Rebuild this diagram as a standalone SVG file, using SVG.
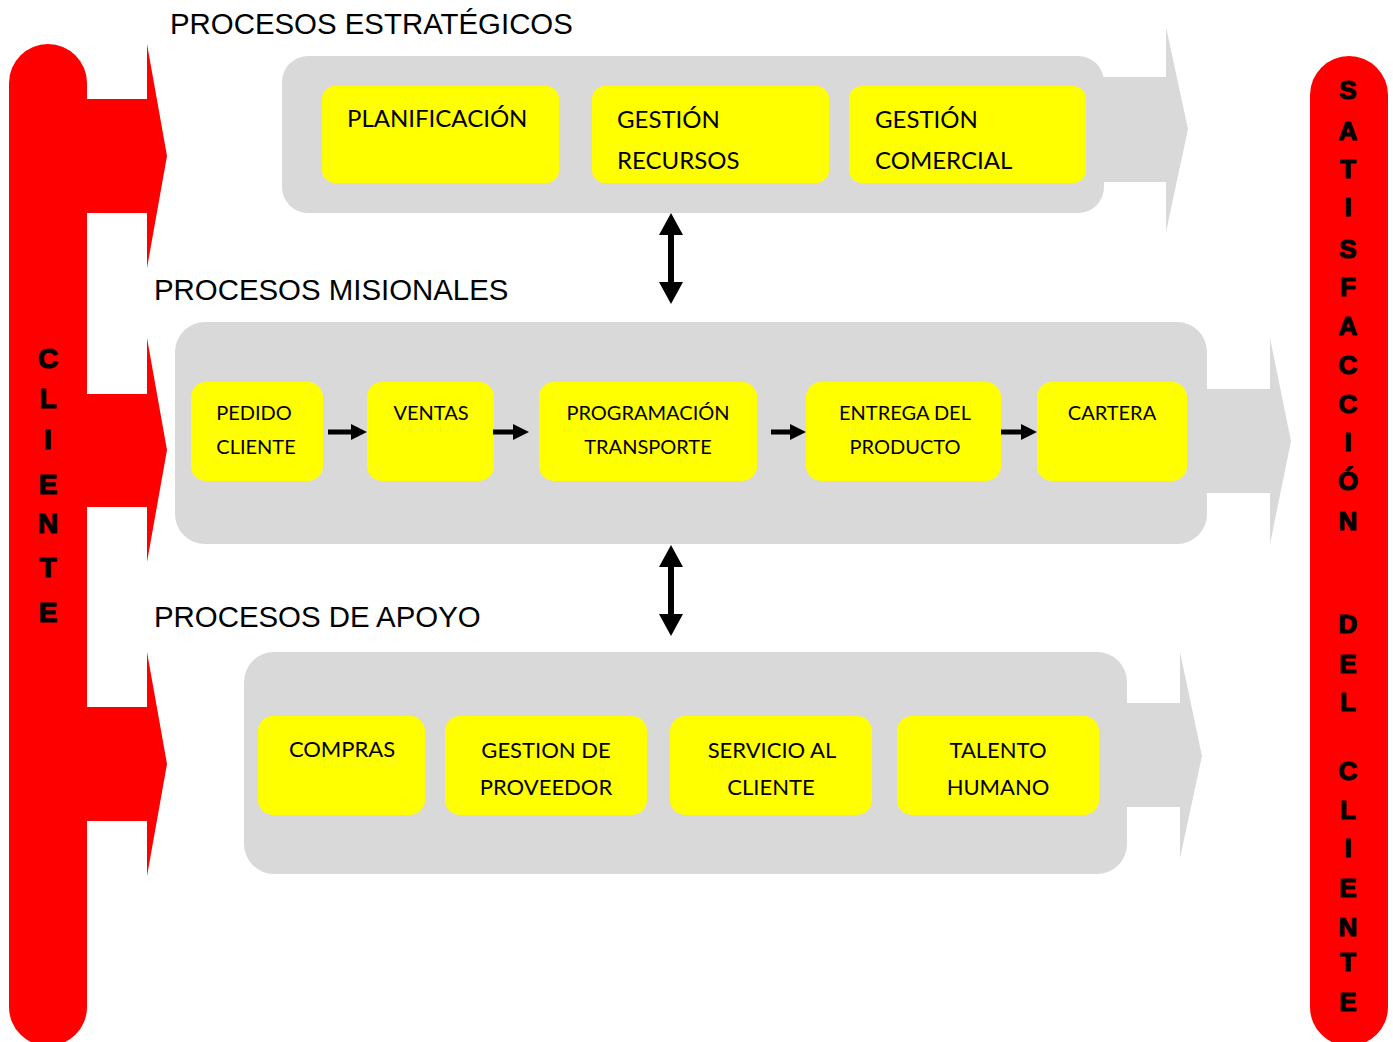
<svg xmlns="http://www.w3.org/2000/svg" width="1393" height="1042" viewBox="0 0 1393 1042">
  <defs>
    <style>
      .red { fill: #FF0000; }
      .panel { fill: #D9D9D9; }
      .box { fill: #FFFF00; }
      .title { font-family: "Liberation Sans", Arial, sans-serif; font-size: 29.4px; fill: #000; }
      .bar { font-family: "Liberation Sans", Arial, sans-serif; font-weight: bold; fill: #000; stroke: #000; stroke-width: 1.2px; stroke-linejoin: round; text-anchor: middle; }
      .bl { font-size: 28px; }
      .br { font-size: 26px; }
      .t1 { font-family: Lato, "Open Sans", sans-serif; font-size: 24px; fill: #000; }
      .t2 { font-family: Lato, "Open Sans", sans-serif; font-size: 20px; fill: #000; text-anchor: middle; }
      .t3 { font-family: Lato, "Open Sans", sans-serif; font-size: 22px; fill: #000; text-anchor: middle; }
      .arrow { fill: #000; }
    </style>
  </defs>

  <!-- Client bar with three arrows pointing into the process panels -->
  <g id="cliente">
    <rect class="red" x="9" y="44" width="78" height="1002" rx="39" ry="39"/>
    <polygon class="red" points="60,99 147,99 147,44 167,156 147,268 147,213 60,213"/>
    <polygon class="red" points="60,394 147,394 147,338 167,450 147,562 147,507 60,507"/>
    <polygon class="red" points="60,707 147,707 147,652 167,764 147,876 147,821 60,821"/>
    <text class="bar bl" x="48" y="368">C</text>
    <text class="bar bl" x="48" y="408">L</text>
    <text class="bar bl" x="48" y="449">I</text>
    <text class="bar bl" x="48" y="494">E</text>
    <text class="bar bl" x="48" y="533">N</text>
    <text class="bar bl" x="48" y="577">T</text>
    <text class="bar bl" x="48" y="622">E</text>
  </g>

  <!-- Customer satisfaction bar -->
  <g id="satisfaccion">
    <rect class="red" x="1310" y="56" width="78" height="990" rx="39" ry="39"/>
    <text class="bar br" x="1348" y="99">S</text>
    <text class="bar br" x="1348" y="140">A</text>
    <text class="bar br" x="1348" y="178">T</text>
    <text class="bar br" x="1348" y="216">I</text>
    <text class="bar br" x="1348" y="258">S</text>
    <text class="bar br" x="1348" y="296">F</text>
    <text class="bar br" x="1348" y="335">A</text>
    <text class="bar br" x="1348" y="374">C</text>
    <text class="bar br" x="1348" y="413">C</text>
    <text class="bar br" x="1348" y="451">I</text>
    <text class="bar br" x="1348" y="490">Ó</text>
    <text class="bar br" x="1348" y="530">N</text>
    <text class="bar br" x="1348" y="633">D</text>
    <text class="bar br" x="1348" y="673">E</text>
    <text class="bar br" x="1348" y="711">L</text>
    <text class="bar br" x="1348" y="780">C</text>
    <text class="bar br" x="1348" y="819">L</text>
    <text class="bar br" x="1348" y="857">I</text>
    <text class="bar br" x="1348" y="897">E</text>
    <text class="bar br" x="1348" y="936">N</text>
    <text class="bar br" x="1348" y="971">T</text>
    <text class="bar br" x="1348" y="1011">E</text>
  </g>

  <!-- Section titles -->
  <text class="title" x="170" y="34">PROCESOS ESTRATÉGICOS</text>
  <text class="title" x="154" y="300">PROCESOS MISIONALES</text>
  <text class="title" x="154" y="627">PROCESOS DE APOYO</text>

  <!-- Strategic processes -->
  <g id="estrategicos">
    <polygon class="panel" points="1080,77 1166,77 1166,27 1188,129 1166,232 1166,182 1080,182"/>
    <rect class="panel" x="282" y="56" width="822" height="157" rx="26" ry="26"/>
  </g>
  <g id="planificacion">
    <rect class="box" x="322" y="86" width="237" height="97" rx="13"/>
    <text class="t1" x="347" y="127">PLANIFICACIÓN</text>
  </g>
  <g id="gestion-recursos">
    <rect class="box" x="592" y="86" width="237" height="97" rx="13"/>
    <text class="t1" x="617" y="128">GESTIÓN</text>
    <text class="t1" x="617" y="169">RECURSOS</text>
  </g>
  <g id="gestion-comercial">
    <rect class="box" x="849" y="86" width="237" height="97" rx="13"/>
    <text class="t1" x="875" y="128">GESTIÓN</text>
    <text class="t1" x="875" y="169">COMERCIAL</text>
  </g>

  <!-- Core processes -->
  <g id="misionales">
    <polygon class="panel" points="1180,389 1270,389 1270,338 1291,441 1270,544 1270,493 1180,493"/>
    <rect class="panel" x="175" y="322" width="1032" height="222" rx="30" ry="30"/>
  </g>
  <g id="pedido-cliente">
    <rect class="box" x="191" y="382" width="132" height="99" rx="15"/>
    <text class="t2" x="254" y="420">PEDIDO</text>
    <text class="t2" x="256" y="454">CLIENTE</text>
  </g>
  <g id="ventas">
    <rect class="box" x="367" y="382" width="127" height="99" rx="15"/>
    <text class="t2" x="431" y="420">VENTAS</text>
  </g>
  <g id="programacion-transporte">
    <rect class="box" x="539" y="382" width="218" height="99" rx="15"/>
    <text class="t2" x="648" y="420">PROGRAMACIÓN</text>
    <text class="t2" x="648" y="454">TRANSPORTE</text>
  </g>
  <g id="entrega-producto">
    <rect class="box" x="806" y="382" width="195" height="99" rx="15"/>
    <text class="t2" x="905" y="420">ENTREGA DEL</text>
    <text class="t2" x="905" y="454">PRODUCTO</text>
  </g>
  <g id="cartera">
    <rect class="box" x="1037" y="382" width="150" height="99" rx="15"/>
    <text class="t2" x="1112" y="420">CARTERA</text>
  </g>

  <!-- Support processes -->
  <g id="apoyo">
    <polygon class="panel" points="1100,703 1180,703 1180,652 1202,756 1180,858 1180,807 1100,807"/>
    <rect class="panel" x="244" y="652" width="883" height="222" rx="30" ry="30"/>
  </g>
  <g id="compras">
    <rect class="box" x="258" y="716" width="167" height="99" rx="15"/>
    <text class="t3" x="342" y="757">COMPRAS</text>
  </g>
  <g id="gestion-proveedor">
    <rect class="box" x="445" y="716" width="202" height="99" rx="15"/>
    <text class="t3" x="546" y="758">GESTION DE</text>
    <text class="t3" x="546" y="795">PROVEEDOR</text>
  </g>
  <g id="servicio-cliente">
    <rect class="box" x="670" y="716" width="202" height="99" rx="15"/>
    <text class="t3" x="772" y="758">SERVICIO AL</text>
    <text class="t3" x="771" y="795">CLIENTE</text>
  </g>
  <g id="talento-humano">
    <rect class="box" x="897" y="716" width="202" height="99" rx="15"/>
    <text class="t3" x="998" y="758">TALENTO</text>
    <text class="t3" x="998" y="795">HUMANO</text>
  </g>

  <!-- Connectors -->
  <g id="connectors">
    <polygon class="arrow" points="671,213 683,235 674,235 674,282 683,282 671,304 659,282 668,282 668,235 659,235"/>
    <polygon class="arrow" points="671,545 683,567 674,567 674,614 683,614 671,636 659,614 668,614 668,567 659,567"/>
    <polygon class="arrow" points="328,429.5 351,429.5 351,424 367,432 351,440 351,434.5 328,434.5"/>
    <polygon class="arrow" points="493,429.5 513,429.5 513,424 529,432 513,440 513,434.5 493,434.5"/>
    <polygon class="arrow" points="771,429.5 790,429.5 790,424 806,432 790,440 790,434.5 771,434.5"/>
    <polygon class="arrow" points="1001,429.5 1021,429.5 1021,424 1037,432 1021,440 1021,434.5 1001,434.5"/>
  </g>
</svg>
